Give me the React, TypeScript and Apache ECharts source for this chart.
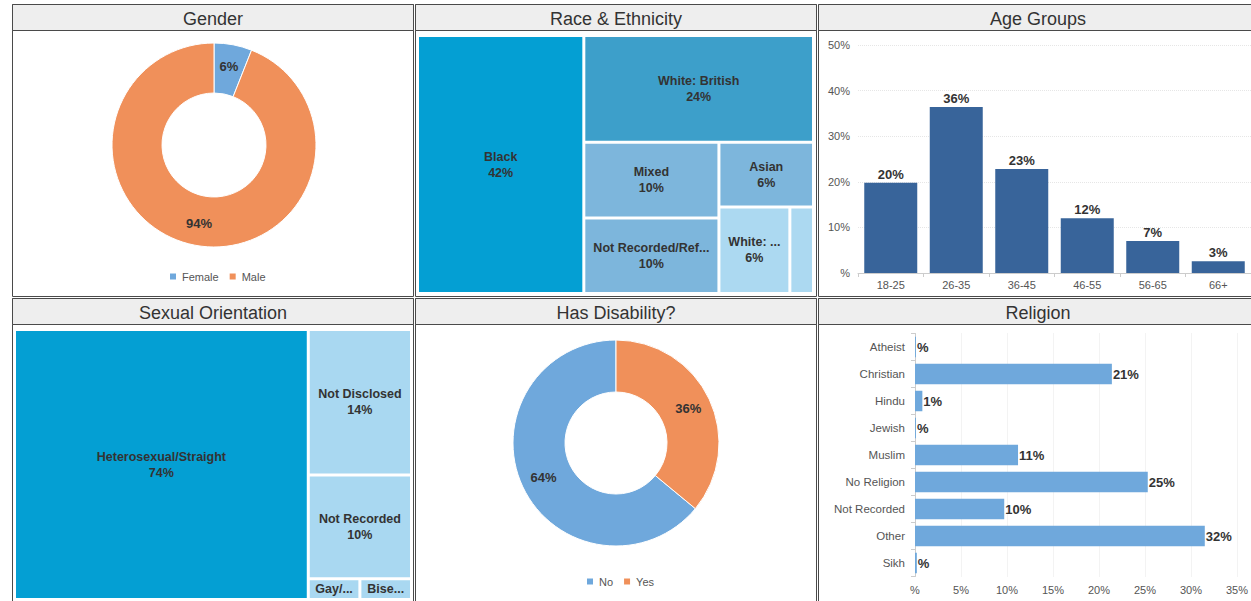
import React, { useEffect, useRef } from 'react';
import * as echarts from 'echarts';

// ---------- data ----------
const genderNames = ['Female', 'Male'];
const genderValues = [6, 94];

const raceNames = ['Black', 'White: British', 'Mixed', 'Not Recorded/Refused', 'Asian', 'White: Other', 'Other'];
const raceValues = [42, 24, 10, 10, 6, 6, 2];

const ageCategories = ['18-25', '26-35', '36-45', '46-55', '56-65', '66+'];
const ageValues = [19.8, 36.4, 22.8, 12.0, 7.0, 2.6];
const ageTicks = [0, 10, 20, 30, 40, 50];

const orientationNames = ['Heterosexual/Straight', 'Not Disclosed', 'Not Recorded', 'Gay/Lesbian', 'Bisexual'];
const orientationValues = [74, 14, 10, 1, 1];

const disabilityNames = ['No', 'Yes'];
const disabilityValues = [64, 36];

const religionCategories = ['Atheist', 'Christian', 'Hindu', 'Jewish', 'Muslim', 'No Religion', 'Not Recorded', 'Other', 'Sikh'];
const religionValues = [0.1, 21.4, 0.8, 0.1, 11.2, 25.3, 9.7, 31.5, 0.2];
const religionTicks = [0, 5, 10, 15, 20, 25, 30, 35];

const panelTitles = ['Gender', 'Race & Ethnicity', 'Age Groups', 'Sexual Orientation', 'Has Disability?', 'Religion'];

// ---------- styles ----------
const BLUE = '#6fa8dc';
const ORANGE = '#f0905a';
const genderColors = [BLUE, ORANGE];
const disabilityColors = [BLUE, ORANGE];
const raceColors = ['#049fd3', '#3d9fca', '#7db6dc', '#7db6dc', '#7db6dc', '#acd9f1', '#acd9f1'];
const orientationColors = ['#049fd3', '#a9d8f1', '#a9d8f1', '#a9d8f1', '#a9d8f1'];
const FONT = '"Liberation Sans", Arial, Helvetica, sans-serif';

const pct = (v: number) => {
  const r = Math.round(v);
  return r === 0 ? '%' : r + '%';
};

// panel geometry (x, width) per column, (y, height) per row
const cols = [
  { x: 12.5, w: 401, cx: 213 },
  { x: 415.5, w: 401, cx: 616 },
  { x: 818.5, w: 440, cx: 1038 },
];
const rows = [
  { y: 4.5, h: 292, ty: 19 },
  { y: 298.5, h: 310, ty: 313 },
];

export default function App() {
  const ref = useRef<HTMLDivElement>(null);

  useEffect(() => {
    if (!ref.current) return;
    const chart = echarts.init(ref.current, undefined, { renderer: 'svg' });

    const graphics: any[] = [];
    rows.forEach((r, ri) => {
      cols.forEach((c, ci) => {
        graphics.push({
          type: 'rect',
          shape: { x: c.x, y: r.y, width: c.w, height: r.h },
          style: { fill: '#ffffff', stroke: '#4a4a4a', lineWidth: 1 },
          z: -10,
        });
        graphics.push({
          type: 'rect',
          shape: { x: c.x, y: r.y, width: c.w, height: 26 },
          style: { fill: '#eeeeee', stroke: '#4a4a4a', lineWidth: 1 },
          z: -9,
        });
        graphics.push({
          type: 'text',
          x: c.cx,
          y: r.ty,
          style: {
            text: panelTitles[ri * 3 + ci],
            fill: '#333',
            font: `18px ${FONT}`,
            textAlign: 'center',
            textVerticalAlign: 'middle',
          },
          z: -8,
        });
      });
    });

    const pieLabel = {
      show: true,
      position: 'inside',
      formatter: (p: any) => pct(p.value),
      fontWeight: 'bold',
      fontSize: 13,
      color: '#333',
      fontFamily: FONT,
    };

    const treemapBase = {
      type: 'treemap',
      roam: false,
      nodeClick: false,
      squareRatio: 1,
      sort: false,
      breadcrumb: { show: false },
      upperLabel: { show: false },
      emphasis: { disabled: true },
      label: {
        show: true,
        position: 'inside',
        formatter: '{b}\n{c}%',
        fontWeight: 'bold',
        fontSize: 12.5,
        lineHeight: 16,
        color: '#333',
        fontFamily: FONT,
        overflow: 'truncate',
        ellipsis: '...',
      },
      itemStyle: { borderWidth: 0, gapWidth: 3, borderColor: '#fff' },
      levels: [{ itemStyle: { borderWidth: 0, gapWidth: 3, borderColor: '#fff' } }],
    };

    const legendBase = {
      itemWidth: 8,
      itemHeight: 8,
      itemGap: 9,
      icon: 'rect',
      selectedMode: false,
      textStyle: { fontSize: 11, color: '#555', fontFamily: FONT },
    };

    const option: any = {
      animation: false,
      textStyle: { fontFamily: FONT },
      graphic: graphics,
      legend: [
        { ...legendBase, data: genderNames, left: 163, top: 266 },
        { ...legendBase, data: disabilityNames, left: 580, top: 571 },
      ],
      grid: [
        { left: 858, top: 45, width: 396, height: 228 },
        { left: 915, top: 333.5, width: 325, height: 243 },
      ],
      xAxis: [
        {
          gridIndex: 0,
          type: 'category',
          data: ageCategories,
          axisLine: { show: true, lineStyle: { color: '#cccccc' } },
          axisTick: { show: true, length: 4, lineStyle: { color: '#cccccc' } },
          axisLabel: { color: '#555', fontSize: 11, margin: 6 },
          splitLine: { show: false },
        },
        {
          gridIndex: 1,
          type: 'value',
          min: religionTicks[0],
          max: religionTicks[religionTicks.length - 1],
          interval: religionTicks[1] - religionTicks[0],
          axisLine: { show: false },
          axisTick: { show: false },
          axisLabel: { color: '#555', fontSize: 11, margin: 8, formatter: (v: number) => pct(v) },
          splitLine: { show: true, lineStyle: { color: '#e6e6e6', type: 'dotted' } },
        },
      ],
      yAxis: [
        {
          gridIndex: 0,
          type: 'value',
          min: ageTicks[0],
          max: ageTicks[ageTicks.length - 1],
          interval: ageTicks[1] - ageTicks[0],
          axisLine: { show: false },
          axisTick: { show: false },
          axisLabel: { color: '#555', fontSize: 11, margin: 8, formatter: (v: number) => pct(v) },
          splitLine: { show: true, lineStyle: { color: '#e6e6e6', type: 'dotted' } },
        },
        {
          gridIndex: 1,
          type: 'category',
          data: religionCategories,
          inverse: true,
          axisLine: { show: true, lineStyle: { color: '#cccccc' } },
          axisTick: { show: true, length: 4, lineStyle: { color: '#cccccc' } },
          axisLabel: { color: '#555', fontSize: 11.5, margin: 10 },
          splitLine: { show: false },
        },
      ],
      series: [
        {
          type: 'pie',
          name: 'Gender',
          center: [214, 145],
          radius: [52, 102],
          startAngle: 90,
          clockwise: true,
          label: pieLabel,
          labelLine: { show: false },
          emphasis: { disabled: true },
          itemStyle: { borderColor: '#fff', borderWidth: 1 },
          data: genderNames.map((n, i) => ({ name: n, value: genderValues[i], itemStyle: { color: genderColors[i] } })),
        },
        {
          ...treemapBase,
          name: 'Race & Ethnicity',
          left: 419,
          top: 37,
          width: 393,
          height: 255,
          data: raceNames.map((n, i) => ({
            name: n,
            value: raceValues[i],
            itemStyle: { color: raceColors[i] },
            ...(raceValues[i] < 3 ? { label: { show: false } } : {}),
          })),
        },
        {
          type: 'bar',
          name: 'Age Groups',
          xAxisIndex: 0,
          yAxisIndex: 0,
          data: ageValues,
          barWidth: 53,
          itemStyle: { color: '#38649a' },
          emphasis: { disabled: true },
          label: {
            show: true,
            position: 'top',
            distance: 2,
            formatter: (p: any) => pct(p.value),
            fontWeight: 'bold',
            fontSize: 13,
            color: '#333',
          },
        },
        {
          ...treemapBase,
          name: 'Sexual Orientation',
          left: 16,
          top: 331,
          width: 394,
          height: 267,
          data: orientationNames.map((n, i) => ({
            name: n,
            value: orientationValues[i],
            itemStyle: { color: orientationColors[i] },
            ...(orientationValues[i] < 3
              ? { label: { formatter: '{b}', padding: [0, 3], lineHeight: 14 } }
              : {}),
          })),
        },
        {
          type: 'pie',
          name: 'Has Disability?',
          center: [616, 443],
          radius: [51, 103],
          startAngle: 90,
          clockwise: false,
          label: pieLabel,
          labelLine: { show: false },
          emphasis: { disabled: true },
          itemStyle: { borderColor: '#fff', borderWidth: 1 },
          data: disabilityNames.map((n, i) => ({ name: n, value: disabilityValues[i], itemStyle: { color: disabilityColors[i] } })),
        },
        {
          type: 'bar',
          name: 'Religion',
          xAxisIndex: 1,
          yAxisIndex: 1,
          data: religionValues,
          barWidth: 20.5,
          itemStyle: { color: BLUE },
          emphasis: { disabled: true },
          label: {
            show: true,
            position: 'right',
            distance: 1,
            formatter: (p: any) => pct(p.value),
            fontWeight: 'bold',
            fontSize: 13,
            color: '#333',
          },
        },
      ],
    };

    chart.setOption(option);
    return () => chart.dispose();
  }, []);

  return (
    <div style={{ position: 'fixed', left: 0, top: 0, width: 1251, height: 601, overflow: 'hidden', background: '#fff' }}>
      <div ref={ref} style={{ width: 1251, height: 601 }} />
    </div>
  );
}
